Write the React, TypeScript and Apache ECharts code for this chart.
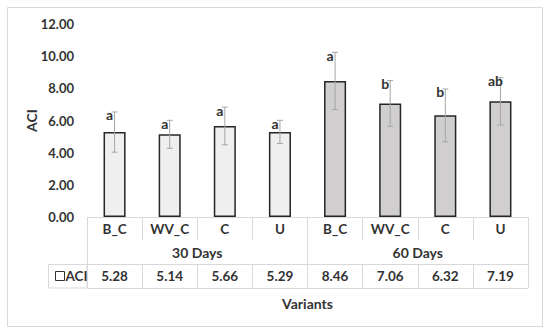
import React, { useEffect, useRef } from 'react';
import * as echarts from 'echarts';

const groups = ['30 Days', '60 Days'];
const variants = ['B_C', 'WV_C', 'C', 'U'];
const categories = groups.flatMap(() => variants);
const aciValues = [5.28, 5.14, 5.66, 5.29, 8.46, 7.06, 6.32, 7.19];
const aciErrors = [1.25, 0.87, 1.17, 0.72, 1.78, 1.42, 1.64, 1.47];
const letters = ['a', 'a', 'a', 'a', 'a', 'b', 'b', 'ab'];
const groupColors = ['#efefef', '#d0cece'];
const yMin = 0;
const yMax = 12;
const yInterval = 2;

const FONT = 'Lato, "Open Sans", sans-serif';
const TEXT = '#333333';
const LINE = '#d9d9d9';

export default function App() {
  const ref = useRef<HTMLDivElement>(null);
  useEffect(() => {
    document.body.style.margin = '0';
    const chart = echarts.init(ref.current!, undefined, { renderer: 'svg' });
    const barData = aciValues.map((v, i) => ({
      value: v,
      itemStyle: { color: groupColors[Math.floor(i / variants.length)] },
    }));
    const errData = aciValues.map((v, i) => [i, v, aciErrors[i]]);
    const txt = { fontFamily: FONT, fontWeight: 'bold' as const, fontSize: 13.5, color: TEXT };
    chart.setOption({
      animation: false,
      textStyle: { fontFamily: FONT },
      grid: { left: 87, right: 22, top: 24, bottom: 117, containLabel: false },
      legend: {
        left: 50,
        top: 264,
        itemWidth: 9,
        itemHeight: 9,
        textStyle: { ...txt, padding: [0, 0, 0, -4] },
        data: [{ name: 'ACI', icon: 'rect', itemStyle: { color: '#ffffff', borderColor: '#333', borderWidth: 1 } }],
      },
      xAxis: [
        {
          type: 'category',
          data: categories,
          position: 'bottom',
          axisLine: { show: true, lineStyle: { color: LINE, width: 1 } },
          axisTick: { show: true, interval: 0, length: 23, lineStyle: { color: LINE } },
          axisLabel: { ...txt, margin: 5, interval: 0 },
          name: 'Variants',
          nameLocation: 'middle',
          nameGap: 79,
          nameMoveOverlap: false,
          nameTextStyle: { ...txt, fontSize: 14 },
        },
        {
          type: 'category',
          data: groups,
          position: 'bottom',
          axisLine: { show: false },
          axisTick: { show: true, interval: 0, length: 71, lineStyle: { color: LINE } },
          axisLabel: { ...txt, fontSize: 14, margin: 28, interval: 0 },
        },
        {
          type: 'category',
          data: aciValues.map((v) => v.toFixed(2)),
          position: 'bottom',
          offset: 47,
          axisLine: { show: true, lineStyle: { color: LINE, width: 1 } },
          axisTick: { show: true, interval: 0, length: 24, lineStyle: { color: LINE } },
          axisLabel: { ...txt, margin: 5, interval: 0 },
        },
      ],
      yAxis: {
        type: 'value',
        min: yMin,
        max: yMax,
        interval: yInterval,
        axisLine: { show: false },
        axisTick: { show: false },
        splitLine: { show: false },
        axisLabel: { ...txt, fontSize: 13, margin: 13, formatter: (v: number) => v.toFixed(2) },
        name: 'ACI',
        nameLocation: 'middle',
        nameGap: 49,
        nameMoveOverlap: false,
        nameTextStyle: { ...txt, fontSize: 14 },
      },
      series: [
        {
          name: 'ACI',
          type: 'bar',
          xAxisIndex: 0,
          barWidth: '40%',
          data: barData,
          itemStyle: { borderColor: '#262626', borderWidth: 1.5 },
        },
        {
          type: 'custom',
          xAxisIndex: 0,
          yAxisIndex: 0,
          z: 5,
          data: errData,
          renderItem: (params: any, api: any) => {
            const i = api.value(0);
            const v = api.value(1);
            const e = api.value(2);
            const top = api.coord([i, v + e]);
            const bot = api.coord([i, v - e]);
            const cap = 3;
            const stroke = { stroke: '#a6a6a6', lineWidth: 1 };
            return {
              type: 'group',
              children: [
                { type: 'line', shape: { x1: top[0], y1: top[1], x2: bot[0], y2: bot[1] }, style: stroke },
                { type: 'line', shape: { x1: top[0] - cap, y1: top[1], x2: top[0] + cap, y2: top[1] }, style: stroke },
                { type: 'line', shape: { x1: bot[0] - cap, y1: bot[1], x2: bot[0] + cap, y2: bot[1] }, style: stroke },
                {
                  type: 'text',
                  x: top[0] - 5,
                  y: top[1] + 3,
                  style: {
                    text: letters[params.dataIndex],
                    fontFamily: FONT,
                    fontWeight: 'bold',
                    fontSize: 14,
                    fill: TEXT,
                    align: 'center',
                    verticalAlign: 'middle',
                  },
                },
              ],
            };
          },
        },
      ],
      graphic: [
        {
          type: 'rect',
          shape: { x: 7.5, y: 7.5, width: 535, height: 319 },
          style: { fill: 'none', stroke: LINE, lineWidth: 1 },
          silent: true,
        },
        {
          type: 'rect',
          shape: { x: 48.5, y: 264.5, width: 38.5, height: 23.5 },
          style: { fill: 'none', stroke: LINE, lineWidth: 1 },
          silent: true,
        },
        {
          type: 'line',
          shape: { x1: 87, y1: 288.5, x2: 528, y2: 288.5 },
          style: { stroke: LINE, lineWidth: 1 },
          silent: true,
        },
      ],
    });
    return () => chart.dispose();
  }, []);
  return <div ref={ref} style={{ width: 550, height: 334 }} />;
}
